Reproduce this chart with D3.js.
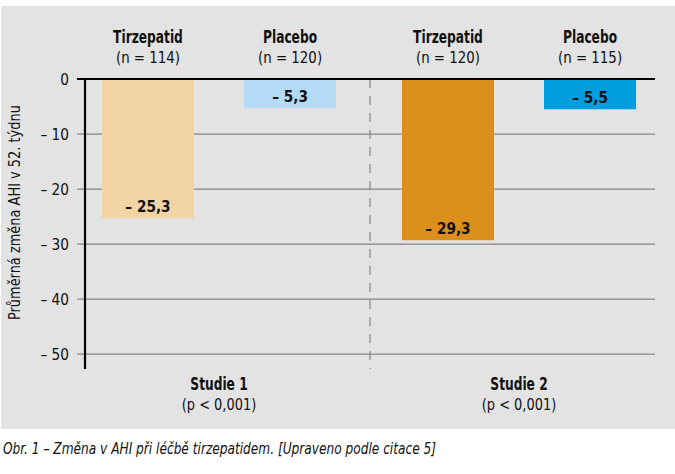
<!DOCTYPE html>
<html>
<head>
<meta charset="utf-8">
<script src="https://cdn.jsdelivr.net/npm/d3@7"></script>
<style>
  html, body { margin: 0; padding: 0; background: #fff; }
  svg text { font-family: "Liberation Sans Narrow", "DejaVu Sans Condensed", "Roboto Condensed", sans-serif; fill: #111; }
</style>
</head>
<body>
<script>
(function(d3) {
  "use strict";

  /***** Data *****/
  var studies = ["Studie 1", "Studie 2"];
  var studyP = ["(p < 0,001)", "(p < 0,001)"];
  var groups = ["Tirzepatid", "Placebo"];
  var nValues = [[114, 120], [120, 115]];
  var values = [[-25.3, -5.3], [-29.3, -5.5]];
  var barColors = [["#f3d4a5", "#b3dbf5"], ["#dc8e1d", "#009ddf"]];
  var yTicks = [0, -10, -20, -30, -40, -50];

  var fmt = function(v) { return v === 0 ? "0" : "\u2013 " + String(Math.abs(v)).replace(".", ","); };

  // the font here is wider than the condensed face of the original, so squeeze it
  var place = function(x, y, sx) { return "translate(" + x + "," + y + ") scale(" + sx + ",1)"; };

  /***** Configuration *****/
  var width = 675, height = 474;
  var axisX = 85, gridRight = 655;

  var svg = d3.select("body").append("svg")
    .attr("width", width)
    .attr("height", height);

  // gray panel
  svg.append("rect")
    .attr("x", 1).attr("y", 6)
    .attr("width", width - 1).attr("height", 423)
    .attr("fill", "#e3e3e3");

  /***** Scales *****/
  var y = d3.scaleLinear().domain([0, -52.7]).range([79, 369]);
  var x0 = d3.scaleBand().domain(studies).range([69, 669]);
  var x1 = d3.scaleBand().domain(groups).range([0, x0.bandwidth()])
    .paddingInner(0.352).paddingOuter(0.232);

  /***** Grid *****/
  svg.append("g").selectAll("line")
    .data(yTicks.filter(function(d) { return d !== 0; }))
    .join("line")
    .attr("x1", axisX - 8).attr("x2", gridRight)
    .attr("y1", function(d) { return y(d); })
    .attr("y2", function(d) { return y(d); })
    .attr("stroke", "#858585")
    .attr("stroke-width", 1.2);

  // dashed separator between studies
  svg.append("line")
    .attr("x1", x0(studies[1]) + 1).attr("x2", x0(studies[1]) + 1)
    .attr("y1", y(0)).attr("y2", y(-52.7))
    .attr("stroke", "#858585")
    .attr("stroke-width", 1.2)
    .attr("stroke-dasharray", "9,8");

  /***** Bars *****/
  var bars = [];
  studies.forEach(function(s, i) {
    groups.forEach(function(g, j) {
      bars.push({ study: s, group: g, n: nValues[i][j], value: values[i][j], color: barColors[i][j] });
    });
  });

  var bar = svg.append("g").selectAll("g")
    .data(bars)
    .join("g")
    .attr("transform", function(d) { return "translate(" + (x0(d.study) + x1(d.group)) + ",0)"; });

  bar.append("rect")
    .attr("x", 0)
    .attr("y", y(0))
    .attr("width", x1.bandwidth())
    .attr("height", function(d) { return y(d.value) - y(0); })
    .attr("fill", function(d) { return d.color; });

  bar.append("text")
    .attr("transform", function(d) { return place(x1.bandwidth() / 2, y(d.value) - 6.5, 0.92); })
    .attr("text-anchor", "middle")
    .attr("font-size", 16.5)
    .attr("font-weight", "bold")
    .text(function(d) { return fmt(d.value); });

  bar.append("text")
    .attr("transform", place(x1.bandwidth() / 2, 43, 0.8))
    .attr("text-anchor", "middle")
    .attr("font-size", 17)
    .attr("font-weight", "bold")
    .text(function(d) { return d.group; });

  bar.append("text")
    .attr("transform", place(x1.bandwidth() / 2, 63, 0.93))
    .attr("text-anchor", "middle")
    .attr("font-size", 16)
    .text(function(d) { return "(n = " + d.n + ")"; });

  /***** Axes *****/
  var yAxis = svg.append("g");
  yAxis.selectAll("text")
    .data(yTicks)
    .join("text")
    .attr("transform", function(d) { return place(69, y(d), 0.95); })
    .attr("dy", "0.35em")
    .attr("text-anchor", "end")
    .attr("font-size", 16)
    .text(fmt);

  yAxis.append("line")
    .attr("x1", axisX).attr("x2", axisX)
    .attr("y1", y(0) - 1).attr("y2", y(-52.7))
    .attr("stroke", "#000").attr("stroke-width", 2.2);

  yAxis.append("line")
    .attr("x1", axisX - 8).attr("x2", gridRight)
    .attr("y1", y(0)).attr("y2", y(0))
    .attr("stroke", "#000").attr("stroke-width", 2.2);

  svg.append("text")
    .attr("transform", "translate(20," + ((y(0) + y(-50)) / 2 - 4) + ") rotate(-90)")
    .attr("text-anchor", "middle")
    .attr("font-size", 15)
    .attr("textLength", 215)
    .attr("lengthAdjust", "spacingAndGlyphs")
    .text("Průměrná změna AHI v 52. týdnu");

  /***** Study labels *****/
  var studyLabel = svg.append("g").selectAll("g")
    .data(studies)
    .join("g")
    .attr("transform", function(d) { return "translate(" + (x0(d) + x0.bandwidth() / 2) + ",0)"; });

  studyLabel.append("text")
    .attr("transform", place(0, 390, 0.8))
    .attr("text-anchor", "middle")
    .attr("font-size", 17)
    .attr("font-weight", "bold")
    .text(function(d) { return d; });

  studyLabel.append("text")
    .attr("transform", place(0, 410, 0.9))
    .attr("text-anchor", "middle")
    .attr("font-size", 16)
    .text(function(d, i) { return studyP[i]; });

  /***** Caption *****/
  svg.append("text")
    .attr("x", 3)
    .attr("y", 454)
    .attr("font-size", 16)
    .attr("font-style", "italic")
    .attr("textLength", 433)
    .attr("lengthAdjust", "spacingAndGlyphs")
    .text("Obr. 1 \u2013 Změna v AHI při léčbě tirzepatidem. [Upraveno podle citace 5]");
})(d3);
</script>
</body>
</html>
